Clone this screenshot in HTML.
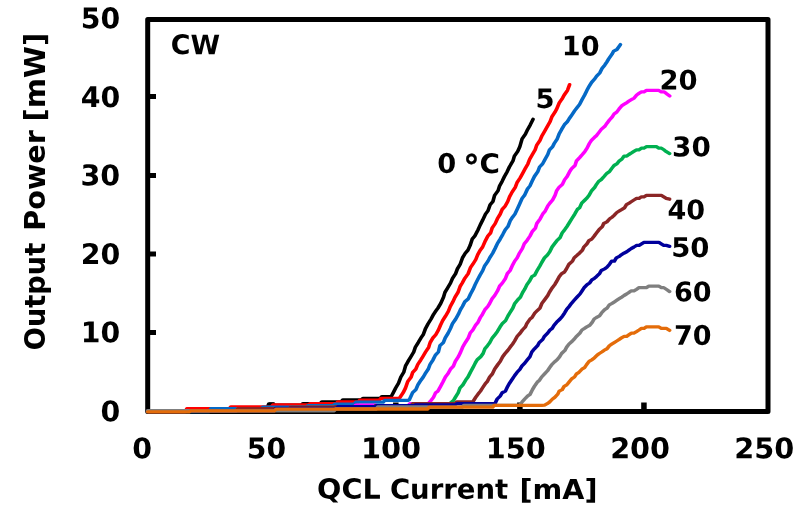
<!DOCTYPE html>
<html lang="en">
<head>
<meta charset="utf-8">
<title>QCL output power vs current</title>
<style>
html,body{margin:0;padding:0;background:#fff;}
body{width:800px;height:507px;overflow:hidden;}
svg{display:block;}
</style>
</head>
<body>
<svg width="800" height="507" viewBox="0 0 800 507" role="img" aria-label="Output power versus QCL current, CW, 0 to 70 °C">
<rect x="0" y="0" width="800" height="507" fill="#ffffff"/>
<rect x="147.70" y="19.60" width="620.30" height="391.90" fill="none" stroke="#000" stroke-width="5" stroke-linejoin="round"/>
<path d="M147.70,96.40 H156.00 M147.70,175.50 H156.00 M147.70,254.00 H156.00 M147.70,332.60 H156.00" stroke="#000" stroke-width="5" fill="none"/>
<path d="M271.76,411.50 V402.60 M395.82,411.50 V402.60 M519.88,411.50 V402.60 M643.94,411.50 V402.60" stroke="#000" stroke-width="5.5" fill="none"/>
<g transform="scale(1.100,1)" fill="none" stroke-width="3.30" stroke-linejoin="round" stroke-linecap="round">
<path d="M134.27,411.5 L170.18,411.5 L171.64,409.8 L208.36,409.8 L209.82,407.8 L242.91,407.8 L244.36,403.8 L248.36,403.8 L249.82,405.2 L273.82,405.2 L275.27,403.6 L291.09,403.6 L292.55,401.8 L310.18,401.8 L311.64,399.8 L328.36,399.8 L329.82,398.4 L345.64,398.4 L347.09,396.6 L354.73,396.6 L355.73,396.4 L357.50,392.7 L359.70,388.0 L362.26,383.3 L364.41,377.0 L367.02,372.3 L368.62,366.1 L370.94,361.4 L373.53,356.7 L376.11,352.0 L377.56,347.3 L380.19,342.6 L382.67,337.9 L384.75,334.7 L386.87,328.4 L389.17,323.7 L391.87,319.0 L394.17,314.3 L396.09,311.2 L398.09,308.1 L400.68,303.4 L403.21,297.1 L404.49,292.4 L407.02,287.7 L409.58,283.0 L411.36,278.3 L414.20,273.6 L415.81,268.9 L418.34,264.2 L420.41,257.9 L422.96,253.2 L425.42,250.1 L427.38,245.4 L429.32,239.1 L431.63,236.0 L434.64,229.7 L436.54,225.0 L438.70,220.3 L441.34,214.1 L443.54,210.9 L445.56,204.7 L448.11,201.5 L449.62,195.3 L452.80,190.6 L454.15,185.9 L456.54,181.2 L458.59,176.5 L461.06,171.7 L463.06,167.0 L466.36,160.8 L467.60,156.1 L470.64,151.4 L472.58,146.7 L474.62,138.8 L477.65,134.1 L479.70,129.4 L482.14,124.7 L484.55,119.3" stroke="#000000"/>
<path d="M134.27,411.5 L168.36,411.5 L169.82,408.7 L208.36,408.7 L209.82,406.8 L246.55,406.8 L248.00,404.9 L280.18,404.9 L281.64,403.7 L305.64,403.7 L307.09,401.8 L325.64,401.8 L327.09,400.2 L344.73,400.2 L346.18,398.4 L362.00,398.4 L363.18,398.2 L366.51,392.7 L368.64,388.0 L370.61,381.7 L373.79,377.0 L375.21,372.3 L378.00,369.2 L379.77,364.5 L382.58,359.8 L384.33,356.7 L386.86,352.0 L389.69,347.3 L391.02,342.6 L393.57,337.9 L396.14,334.7 L398.56,330.0 L400.35,325.3 L402.40,320.6 L405.12,315.9 L407.62,311.2 L409.34,306.5 L411.69,301.8 L413.67,297.1 L416.34,292.4 L418.44,286.1 L420.23,283.0 L422.53,278.3 L425.61,273.6 L427.82,267.3 L429.85,264.2 L432.54,259.5 L434.26,254.8 L436.64,250.1 L438.73,247.0 L441.26,240.7 L443.50,236.0 L446.04,232.9 L447.33,228.2 L450.22,223.5 L452.13,218.8 L454.72,214.1 L456.54,209.4 L459.14,206.2 L461.57,201.5 L463.24,196.8 L465.51,192.1 L468.38,187.4 L470.01,182.7 L472.79,178.0 L475.19,173.3 L477.49,168.6 L479.89,163.9 L481.52,159.2 L483.99,154.5 L486.52,149.8 L487.98,145.1 L490.88,140.4 L492.74,135.7 L495.25,131.0 L497.68,126.3 L500.12,121.6 L501.65,116.9 L504.49,112.2 L506.03,109.1 L508.40,102.8 L511.41,98.1 L512.93,95.0 L515.90,90.3 L517.82,84.6" stroke="#FF0000"/>
<path d="M134.27,411.5 L190.18,411.5 L191.64,408.7 L237.45,408.7 L238.91,407.2 L278.36,407.2 L279.82,405.6 L302.91,405.6 L304.36,404.1 L322.00,404.1 L323.45,402.2 L348.36,402.2 L349.82,400.3 L371.09,400.3 L372.09,399.8 L375.09,392.7 L378.06,389.6 L379.91,384.9 L382.63,380.2 L384.80,377.0 L386.40,373.9 L389.30,369.2 L390.92,364.5 L393.68,359.8 L395.81,355.1 L398.53,352.0 L399.97,345.7 L403.02,342.6 L404.76,337.9 L407.42,333.1 L409.57,328.4 L411.35,323.7 L414.29,319.0 L416.68,314.3 L418.61,309.6 L420.38,306.5 L422.56,301.8 L425.77,298.7 L427.75,294.0 L430.08,289.3 L431.94,284.6 L434.11,279.9 L436.34,275.2 L438.87,270.5 L440.61,265.8 L443.63,261.1 L445.16,257.9 L447.87,253.2 L450.06,248.5 L452.07,243.8 L454.69,239.1 L457.08,234.4 L459.33,229.7 L461.74,226.6 L464.02,220.3 L465.91,217.2 L468.11,214.1 L470.14,209.4 L472.12,204.7 L474.63,198.4 L476.85,195.3 L479.51,189.0 L481.78,185.9 L483.75,181.2 L485.82,176.5 L488.88,171.7 L490.51,167.0 L493.25,163.9 L495.53,159.2 L497.96,154.5 L499.57,149.8 L502.43,146.7 L503.80,143.5 L506.61,138.8 L508.25,134.1 L510.56,129.4 L513.10,124.7 L515.82,121.6 L517.56,118.5 L519.60,115.3 L522.46,110.6 L524.68,107.5 L526.92,104.4 L529.07,99.7 L531.49,95.0 L533.58,90.3 L535.97,85.6 L537.82,82.4 L540.34,79.3 L542.39,76.2 L545.21,73.0 L547.39,68.3 L549.72,65.2 L551.60,62.1 L553.35,58.9 L556.38,54.2 L557.92,51.1 L560.85,49.5 L564.00,44.6" stroke="#0569C6"/>
<path d="M134.27,411.2 L172.00,411.2 L173.45,410.8 L214.73,410.8 L216.18,408.7 L262.91,408.7 L264.36,407.1 L303.82,407.1 L305.27,406.7 L322.00,406.7 L323.45,405.2 L341.09,405.2 L342.55,405.6 L371.09,405.6 L372.55,403.7 L388.36,403.7 L389.36,403.5 L391.81,400.5 L394.07,397.4 L396.05,392.7 L398.16,391.1 L400.47,386.4 L402.76,381.7 L404.91,377.0 L407.09,373.9 L409.50,369.2 L412.19,366.1 L413.92,361.4 L416.75,356.7 L418.78,352.0 L420.54,347.3 L423.00,342.6 L425.76,337.9 L427.42,333.1 L429.84,330.0 L432.31,325.3 L434.61,322.2 L436.67,317.5 L438.59,314.3 L440.85,309.6 L443.43,306.5 L445.19,303.4 L447.33,298.7 L449.71,295.5 L452.32,290.8 L454.19,286.1 L456.72,283.0 L459.56,278.3 L461.20,273.6 L463.72,270.5 L465.65,265.8 L467.91,261.1 L470.13,257.9 L472.18,253.2 L474.89,248.5 L476.62,243.8 L478.97,240.7 L481.84,236.0 L484.01,231.3 L486.69,228.2 L487.99,223.5 L491.07,218.8 L493.36,214.1 L495.72,210.9 L497.87,206.2 L499.87,203.1 L502.35,200.0 L504.61,195.3 L506.10,190.6 L508.17,187.4 L511.26,184.3 L513.32,179.6 L515.58,176.5 L517.83,171.7 L519.65,168.6 L522.71,165.5 L524.11,160.8 L526.91,157.6 L529.41,154.5 L531.75,151.4 L533.70,148.2 L535.78,143.5 L537.65,140.4 L540.46,137.3 L542.13,135.7 L544.36,132.6 L546.59,129.4 L549.85,126.3 L551.81,123.2 L554.04,120.0 L556.61,116.9 L558.37,113.8 L560.66,112.2 L562.73,109.1 L565.08,105.9 L567.20,104.4 L569.50,102.8 L571.68,101.2 L573.95,99.7 L576.52,98.1 L578.80,95.0 L580.85,93.4 L583.12,91.8 L585.47,91.8 L587.65,90.3 L589.91,90.3 L592.17,90.3 L594.42,90.3 L596.70,90.3 L598.86,90.3 L601.11,91.8 L603.58,91.8 L605.68,93.4 L608.82,96.0" stroke="#FF00FF"/>
<path d="M134.27,411.2 L172.00,411.2 L173.45,410.8 L214.73,410.8 L216.18,408.7 L262.91,408.7 L264.36,407.1 L303.82,407.1 L305.27,406.7 L340.18,406.7 L341.64,405.6 L373.82,405.6 L375.27,403.9 L408.36,403.9 L409.27,403.2 L412.26,400.5 L413.93,397.4 L416.56,392.7 L418.14,388.0 L420.80,384.9 L423.31,380.2 L425.44,377.0 L427.64,372.3 L429.98,367.6 L432.14,362.9 L433.81,359.8 L437.00,356.7 L439.17,353.5 L440.81,348.8 L443.17,345.7 L445.25,342.6 L447.52,337.9 L449.95,334.7 L452.11,331.6 L454.60,326.9 L456.62,323.7 L459.61,320.6 L461.81,315.9 L463.53,312.8 L466.19,308.1 L467.98,303.4 L470.40,300.2 L473.13,297.1 L475.17,292.4 L476.95,289.3 L479.04,284.6 L481.18,281.4 L483.51,276.7 L486.03,275.2 L488.28,270.5 L490.89,265.8 L492.42,262.6 L494.96,257.9 L497.77,254.8 L499.85,251.7 L501.86,247.0 L504.09,243.8 L506.24,240.7 L509.17,237.6 L511.08,232.9 L513.37,229.7 L515.36,226.6 L518.04,221.9 L519.79,218.8 L522.50,214.1 L524.88,209.4 L526.88,207.8 L528.82,203.1 L531.76,200.0 L533.23,198.4 L535.54,195.3 L537.95,190.6 L540.63,187.4 L542.31,184.3 L544.40,181.2 L546.55,179.6 L549.14,176.5 L551.68,173.3 L554.02,171.7 L556.01,168.6 L558.23,165.5 L560.71,163.9 L563.06,160.8 L565.34,159.2 L567.30,156.1 L569.86,156.1 L571.71,154.5 L574.13,152.9 L576.25,151.4 L578.64,149.8 L580.86,149.8 L583.22,148.2 L585.47,148.2 L587.76,146.7 L589.94,146.7 L592.16,146.7 L594.43,146.7 L596.73,146.7 L598.85,148.2 L601.38,148.2 L603.53,149.8 L605.43,151.4 L608.73,153.6" stroke="#00B050"/>
<path d="M134.27,411.2 L172.00,411.2 L173.45,410.8 L214.73,410.8 L216.18,408.7 L262.91,408.7 L264.36,407.1 L303.82,407.1 L305.27,406.7 L340.18,406.7 L341.64,405.6 L373.82,405.6 L375.27,403.7 L413.82,403.7 L415.27,401.8 L429.27,401.8 L430.00,401.6 L432.40,397.4 L434.45,394.3 L436.78,391.1 L438.58,388.0 L441.41,383.3 L442.87,381.7 L445.15,377.0 L447.62,373.9 L449.66,369.2 L452.60,364.5 L454.78,361.4 L456.96,356.7 L459.17,353.5 L461.65,350.4 L463.69,347.3 L465.95,344.1 L467.81,341.0 L470.22,336.3 L472.90,333.1 L474.89,330.0 L477.63,326.9 L478.93,323.7 L481.85,319.0 L483.67,317.5 L486.32,312.8 L487.91,311.2 L490.87,308.1 L492.62,303.4 L494.80,300.2 L497.97,295.5 L499.40,292.4 L502.12,287.7 L504.31,284.6 L506.04,281.4 L508.35,276.7 L510.65,273.6 L513.18,272.0 L514.95,268.9 L517.21,264.2 L520.45,261.1 L521.93,257.9 L525.03,254.8 L526.76,253.2 L529.49,250.1 L530.79,247.0 L533.57,243.8 L535.36,240.7 L537.95,239.1 L540.22,236.0 L542.31,232.9 L544.56,229.7 L547.55,226.6 L548.83,223.5 L551.76,221.9 L554.27,218.8 L556.34,217.2 L558.04,215.6 L560.74,212.5 L563.11,210.9 L565.43,209.4 L567.70,207.8 L569.50,204.7 L571.97,203.1 L574.16,201.5 L576.28,200.0 L578.69,198.4 L581.02,198.4 L583.14,196.8 L585.43,196.8 L587.67,195.3 L589.92,195.3 L592.16,195.3 L594.43,195.3 L596.68,195.3 L598.94,195.3 L601.26,195.3 L603.46,196.8 L605.67,198.4 L608.73,199.2" stroke="#8B2626"/>
<path d="M134.27,411.2 L172.00,411.2 L173.45,410.9 L249.27,410.9 L250.73,408.5 L305.64,408.5 L307.09,406.7 L341.09,406.7 L342.55,405.6 L376.55,405.6 L378.00,404.8 L413.82,404.8 L415.27,403.7 L449.27,403.7 L450.00,403.5 L451.96,399.0 L454.91,395.8 L456.51,392.7 L459.48,391.1 L461.50,386.4 L463.13,383.3 L466.01,378.6 L467.91,375.5 L470.07,372.3 L472.70,369.2 L474.37,366.1 L477.25,362.9 L479.41,359.8 L481.74,356.7 L483.46,352.0 L485.88,348.8 L488.68,345.7 L490.17,342.6 L493.42,339.4 L494.93,336.3 L497.85,333.1 L499.99,330.0 L501.99,328.4 L503.70,325.3 L506.04,322.2 L509.10,319.0 L511.46,315.9 L513.34,312.8 L515.05,309.6 L517.40,306.5 L519.45,303.4 L521.96,300.2 L524.55,297.1 L527.25,294.0 L529.15,290.8 L531.06,287.7 L533.74,284.6 L536.00,283.0 L538.03,279.9 L540.41,278.3 L542.13,276.7 L544.99,273.6 L546.64,270.5 L549.66,268.9 L551.72,267.3 L554.14,264.2 L556.04,261.1 L558.54,261.1 L560.29,257.9 L562.96,256.4 L564.78,254.8 L567.14,253.2 L569.81,251.7 L571.78,250.1 L573.90,248.5 L576.40,247.0 L578.78,245.4 L581.04,245.4 L583.24,243.8 L585.45,242.3 L587.63,242.3 L589.91,242.3 L592.17,242.3 L594.42,242.3 L596.66,242.3 L599.04,242.3 L601.13,243.8 L603.36,245.4 L605.80,245.4 L608.73,246.4" stroke="#00009C"/>
<path d="M134.27,410.6 L171.55,410.6 L173.00,410.8 L303.82,410.8 L305.27,409.0 L342.00,409.0 L343.45,407.0 L388.36,407.0 L389.82,407.1 L420.18,407.1 L421.64,405.4 L471.55,405.4 L472.27,405.3 L474.57,402.1 L477.01,399.0 L479.79,395.8 L481.94,394.3 L484.05,389.6 L485.81,386.4 L488.81,381.7 L490.49,380.2 L492.40,377.0 L495.08,373.9 L497.72,370.8 L499.66,367.6 L501.73,364.5 L504.61,361.4 L506.43,359.8 L508.76,356.7 L510.52,353.5 L513.54,350.4 L515.06,347.3 L517.23,344.1 L520.40,341.0 L521.75,339.4 L524.13,336.3 L527.16,333.1 L529.03,330.0 L531.37,328.4 L533.41,326.9 L536.18,325.3 L538.43,322.2 L540.13,319.0 L542.18,317.5 L545.02,315.9 L546.97,312.8 L549.68,309.6 L551.88,308.1 L553.91,304.9 L556.45,303.4 L558.63,301.8 L560.85,300.2 L562.93,298.7 L565.25,297.1 L567.30,295.5 L569.64,294.0 L571.87,292.4 L573.95,290.8 L576.38,290.8 L578.66,289.3 L580.90,287.7 L583.16,287.7 L585.44,287.7 L587.66,287.7 L589.85,286.1 L592.14,286.1 L594.43,286.1 L596.70,286.1 L598.92,286.1 L601.27,287.7 L603.54,287.7 L605.69,289.3 L608.73,291.6" stroke="#7F7F7F"/>
<path d="M134.27,411.8 L172.00,411.8 L173.45,410.9 L249.27,410.9 L250.73,409.2 L303.82,409.2 L305.27,409.0 L388.82,409.0 L390.27,407.1 L447.91,407.1 L449.36,405.3 L492.00,405.3 L492.73,405.3 L495.09,405.2 L497.51,403.7 L499.52,402.1 L502.29,399.0 L504.32,397.4 L506.96,394.3 L508.38,391.1 L511.11,389.6 L512.83,386.4 L515.26,384.9 L517.54,381.7 L519.95,378.6 L522.26,377.0 L524.09,373.9 L526.36,372.3 L528.98,369.2 L531.42,367.6 L533.35,364.5 L535.52,361.4 L537.94,359.8 L540.11,358.2 L542.86,355.1 L544.85,353.5 L547.08,352.0 L549.01,350.4 L551.85,348.8 L553.97,345.7 L556.08,344.1 L558.36,342.6 L560.69,341.0 L562.98,339.4 L564.98,337.9 L567.45,336.3 L569.73,336.3 L571.91,334.7 L574.08,333.1 L576.26,333.1 L578.63,331.6 L580.95,330.0 L583.12,328.4 L585.53,328.4 L587.63,326.9 L589.83,326.9 L592.10,326.9 L594.42,326.9 L596.67,326.9 L598.87,326.9 L601.18,328.4 L603.44,328.4 L605.73,328.4 L608.73,330.4" stroke="#E46C0A"/>
</g>
<g font-family="'DejaVu Sans', 'Liberation Sans', sans-serif" font-weight="bold" fill="#000">
<text transform="translate(80.83,28.30) rotate(0.1) scale(0.9931,1)" font-size="28.50px">50</text>
<text transform="translate(80.71,106.95) rotate(0.1) scale(0.9962,1)" font-size="28.50px">40</text>
<text transform="translate(80.52,185.15) rotate(0.1) scale(1.0013,1)" font-size="28.50px">30</text>
<text transform="translate(80.68,264.00) rotate(0.1) scale(0.9971,1)" font-size="28.50px">20</text>
<text transform="translate(80.80,342.25) rotate(0.1) scale(0.9939,1)" font-size="28.50px">10</text>
<text transform="translate(100.57,421.20) rotate(0.1) scale(0.9961,1)" font-size="28.50px">0</text>
<text transform="translate(132.27,458.15) rotate(0.1) scale(0.9961,1)" font-size="28.50px">0</text>
<text transform="translate(246.84,458.15) rotate(0.1) scale(0.9904,1)" font-size="28.50px">50</text>
<text transform="translate(360.95,458.15) rotate(0.1) scale(1.0100,1)" font-size="28.50px">100</text>
<text transform="translate(485.76,458.15) rotate(0.1) scale(1.0082,1)" font-size="28.50px">150</text>
<text transform="translate(610.16,458.15) rotate(0.1) scale(1.0065,1)" font-size="28.50px">200</text>
<text transform="translate(734.36,458.15) rotate(0.1) scale(1.0082,1)" font-size="28.50px">250</text>
<text transform="rotate(0.1 456.8 498.8)" y="498.8" font-size="27.6px"><tspan x="317.10" textLength="63.55" lengthAdjust="spacingAndGlyphs">QCL</tspan> <tspan x="389.96" textLength="118.19" lengthAdjust="spacingAndGlyphs">Current</tspan> <tspan x="519.52" textLength="77.92" lengthAdjust="spacingAndGlyphs">[mA]</tspan></text>
<text transform="translate(44.5,192) rotate(-90)" y="0" font-size="27.6px"><tspan x="-158.18" textLength="107.33" lengthAdjust="spacingAndGlyphs">Output</tspan> <tspan x="-38.73" textLength="100.54" lengthAdjust="spacingAndGlyphs">Power</tspan> <tspan x="70.64" textLength="88.64" lengthAdjust="spacingAndGlyphs">[mW]</tspan></text>
<text transform="translate(170.84,54.10) rotate(0.1) scale(0.9962,1)" font-size="26.90px">CW</text>
<text transform="translate(535.49,107.90) rotate(0.1) scale(1.0192,1)" font-size="26.90px">5</text>
<text transform="translate(561.83,55.35) rotate(0.1) scale(1.0081,1)" font-size="26.90px">10</text>
<text transform="translate(659.46,89.45) rotate(0.1) scale(1.0184,1)" font-size="26.90px">20</text>
<text transform="translate(672.06,156.15) rotate(0.1) scale(1.0349,1)" font-size="26.90px">30</text>
<text transform="translate(667.56,219.25) rotate(0.1) scale(1.0048,1)" font-size="26.90px">40</text>
<text transform="translate(671.18,256.85) rotate(0.1) scale(1.0219,1)" font-size="26.90px">50</text>
<text transform="translate(673.88,301.15) rotate(0.1) scale(1.0040,1)" font-size="26.90px">60</text>
<text transform="translate(673.97,344.80) rotate(0.1) scale(1.0018,1)" font-size="26.90px">70</text>
<text transform="rotate(0.1 468 173)" font-size="26.90px"><tspan x="437.32" textLength="18.95" lengthAdjust="spacingAndGlyphs" y="172.90">0</tspan> <tspan x="471.50" y="177.90" font-size="32.6px" text-anchor="middle" stroke="#000" stroke-width="0.35" stroke-linejoin="round">°</tspan><tspan x="479.50" textLength="20.43" lengthAdjust="spacingAndGlyphs" y="172.90">C</tspan></text>
</g>
</svg>
</body>
</html>
